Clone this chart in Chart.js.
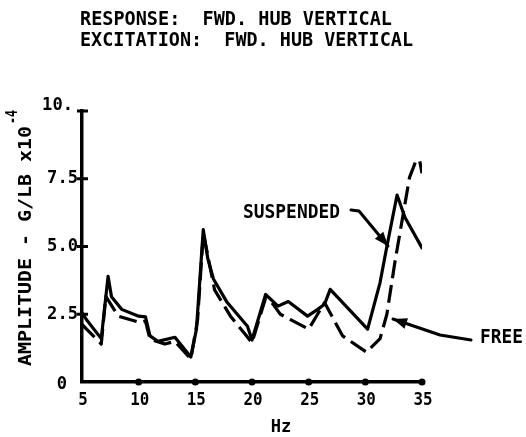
<!DOCTYPE html>
<html><head><meta charset="utf-8">
<script src="https://cdn.jsdelivr.net/npm/chart.js@4.4.1/dist/chart.umd.min.js"></script>
<style>html,body{margin:0;padding:0;background:#fff;overflow:hidden}#wrap{width:526px;height:437px}</style>
</head><body><div id="wrap"><canvas id="c" width="526" height="437"></canvas></div>
<script>
const titleLines = ['RESPONSE:  FWD. HUB VERTICAL', 'EXCITATION:  FWD. HUB VERTICAL'];
const yAxisTitle = 'AMPLITUDE - G/LB x10';
const yAxisExp = '-4';
const xAxisTitle = 'Hz';
const xTickValues = [5, 10, 15, 20, 25, 30, 35];
const xTickLabels = ['5', '10', '15', '20', '25', '30', '35'];
const yTickValues = [0, 2.5, 5, 7.5, 10];
const yTickLabels = ['0', '2.5', '5.0', '7.5', '10.'];
const seriesNames = ['SUSPENDED', 'FREE'];

const suspendedHz  = [5.0, 5.4, 6.7, 7.3, 7.6, 8.5, 10.0, 10.6, 11.0, 11.7, 13.2, 14.6, 15.1, 15.7, 16.1, 16.6, 17.8, 19.6, 20.0, 21.2, 22.3, 23.2, 24.9, 25.8, 26.4, 26.9, 30.2, 31.3, 31.9, 32.8, 33.5, 35.0];
const suspendedAmp = [2.55, 2.3, 1.6, 3.9, 3.15, 2.68, 2.43, 2.4, 1.7, 1.5, 1.65, 0.92, 1.95, 5.62, 4.55, 3.8, 2.94, 2.06, 1.55, 3.23, 2.8, 2.97, 2.43, 2.68, 2.87, 3.42, 1.95, 3.67, 5.0, 6.9, 6.07, 4.95];

const freeHz  = [5.0, 5.4, 6.7, 7.1, 8.2, 10.1, 10.6, 11.0, 12.3, 13.2, 14.6, 15.2, 15.7, 16.7, 18.1, 19.4, 20.0, 21.2, 21.8, 22.5, 23.4, 25.0, 26.4, 28.0, 30.1, 31.3, 31.9, 32.6, 33.3, 33.9, 34.5, 34.8, 35.0];
const freeAmp = [2.13, 1.95, 1.4, 3.16, 2.43, 2.2, 2.25, 1.58, 1.4, 1.5, 0.85, 2.3, 5.5, 3.4, 2.43, 1.76, 1.45, 3.1, 2.9, 2.5, 2.3, 1.95, 2.93, 1.7, 1.1, 1.6, 2.5, 4.4, 6.1, 7.55, 8.2, 8.15, 7.7];

const FONT = '"DejaVu Sans Mono"';

function txt(ctx, s, x, y, size, align, width, sxDefault) {
  ctx.save();
  ctx.font = 'bold ' + size + 'px ' + FONT;
  const w = ctx.measureText(s).width;
  const sx = width ? width / w : (sxDefault || 0.92);
  ctx.translate(x, y);
  ctx.scale(sx, 1);
  ctx.textAlign = align;
  ctx.textBaseline = 'middle';
  ctx.fillStyle = '#000';
  ctx.fillText(s, 0, 0);
  ctx.restore();
}

function arrow(ctx, pts) {
  ctx.save();
  ctx.strokeStyle = '#000';
  ctx.fillStyle = '#000';
  ctx.lineWidth = 3;
  ctx.lineCap = 'round';
  ctx.lineJoin = 'round';
  ctx.beginPath();
  ctx.moveTo(pts[0][0], pts[0][1]);
  for (let i = 1; i < pts.length; i++) ctx.lineTo(pts[i][0], pts[i][1]);
  ctx.stroke();
  const [x1, y1] = pts[pts.length - 2], [x2, y2] = pts[pts.length - 1];
  const a = Math.atan2(y2 - y1, x2 - x1);
  const L = 14, W = 5.5;
  ctx.beginPath();
  ctx.moveTo(x2, y2);
  ctx.lineTo(x2 - L * Math.cos(a) + W * Math.sin(a), y2 - L * Math.sin(a) - W * Math.cos(a));
  ctx.lineTo(x2 - L * Math.cos(a) - W * Math.sin(a), y2 - L * Math.sin(a) + W * Math.cos(a));
  ctx.closePath();
  ctx.fill();
  ctx.restore();
}

const decor = {
  id: 'decor',
  afterDraw(chart) {
    const ctx = chart.ctx, xs = chart.scales.x, ys = chart.scales.y;
    const X = v => xs.getPixelForValue(v), Y = v => ys.getPixelForValue(v);
    const left = chart.chartArea.left, bottom = chart.chartArea.bottom;

    // titles
    txt(ctx, titleLines[0], 80, 20, 19, 'left', 312);
    txt(ctx, titleLines[1], 80, 41, 19, 'left', 333);

    // axis tick marks
    ctx.save();
    ctx.strokeStyle = '#000'; ctx.fillStyle = '#000'; ctx.lineWidth = 3;
    yTickValues.forEach(v => {
      if (v === 0) return;
      ctx.beginPath(); ctx.moveTo(left - 5, Y(v)); ctx.lineTo(left + 6, Y(v)); ctx.stroke();
    });
    xTickValues.forEach(v => {
      if (v === 5) return;
      ctx.beginPath(); ctx.arc(X(v), bottom, 3.5, 0, Math.PI * 2); ctx.fill();
    });
    ctx.restore();

    // tick labels
    yTickValues.forEach((v, i) => {
      const lab = yTickLabels[i];
      const xr = lab === '0' ? 67 : (lab === '10.' ? 73 : 78);
      const dy = lab === '10.' ? -6 : (lab === '0' ? 2 : 0);
      txt(ctx, lab, xr, Y(v) + dy, 18, 'right', null, 0.95);
    });
    xTickValues.forEach((v, i) => {
      txt(ctx, xTickLabels[i], X(v) + 1, 400, 18, 'center', null, 0.88);
    });

    // x title
    txt(ctx, xAxisTitle, 281, 427, 18, 'center', null, 0.95);

    // y title (rotated)
    ctx.save();
    ctx.translate(26, 366);
    ctx.rotate(-Math.PI / 2);
    txt(ctx, yAxisTitle, 0, 0, 18, 'left', 240);
    txt(ctx, yAxisExp, 242, -13, 15, 'left', 14);
    ctx.restore();

    // annotations
    txt(ctx, seriesNames[0], 243, 213, 19, 'left', 97);
    arrow(ctx, [[351, 210], [359, 211], [388, 246]]);
    txt(ctx, seriesNames[1], 480, 338, 19, 'left', 43);
    arrow(ctx, [[471, 340], [440, 335], [393, 319]]);
  }
};

const mk = (hz, amp) => hz.map((h, i) => ({ x: h, y: amp[i] }));

new Chart(document.getElementById('c'), {
  type: 'line',
  data: {
    datasets: [
      { label: seriesNames[0], data: mk(suspendedHz, suspendedAmp), borderColor: '#000', borderWidth: 3.2, pointRadius: 0, tension: 0, fill: false, borderJoinStyle: 'round', borderCapStyle: 'round' },
      { label: seriesNames[1], data: mk(freeHz, freeAmp), borderColor: '#000', borderWidth: 3.2, pointRadius: 0, tension: 0, fill: false, borderDash: [18, 7], borderJoinStyle: 'round' }
    ]
  },
  options: {
    responsive: false,
    animation: false,
    devicePixelRatio: 1,
    layout: { padding: { left: 0, top: 111, right: 104, bottom: 0 } },
    plugins: { legend: { display: false }, title: { display: false }, tooltip: { enabled: false } },
    scales: {
      x: {
        type: 'linear', min: 5, max: 35,
        ticks: { display: false, stepSize: 5 },
        grid: { display: true, drawOnChartArea: false, drawTicks: false },
        border: { display: true, color: '#000', width: 3.5 },
        afterFit: s => { s.height = 55; }
      },
      y: {
        type: 'linear', min: 0, max: 10,
        ticks: { display: false, stepSize: 2.5 },
        grid: { display: true, drawOnChartArea: false, drawTicks: false },
        border: { display: true, color: '#000', width: 3.5 },
        afterFit: s => { s.width = 82; }
      }
    }
  },
  plugins: [decor]
});
</script>
</body></html>
